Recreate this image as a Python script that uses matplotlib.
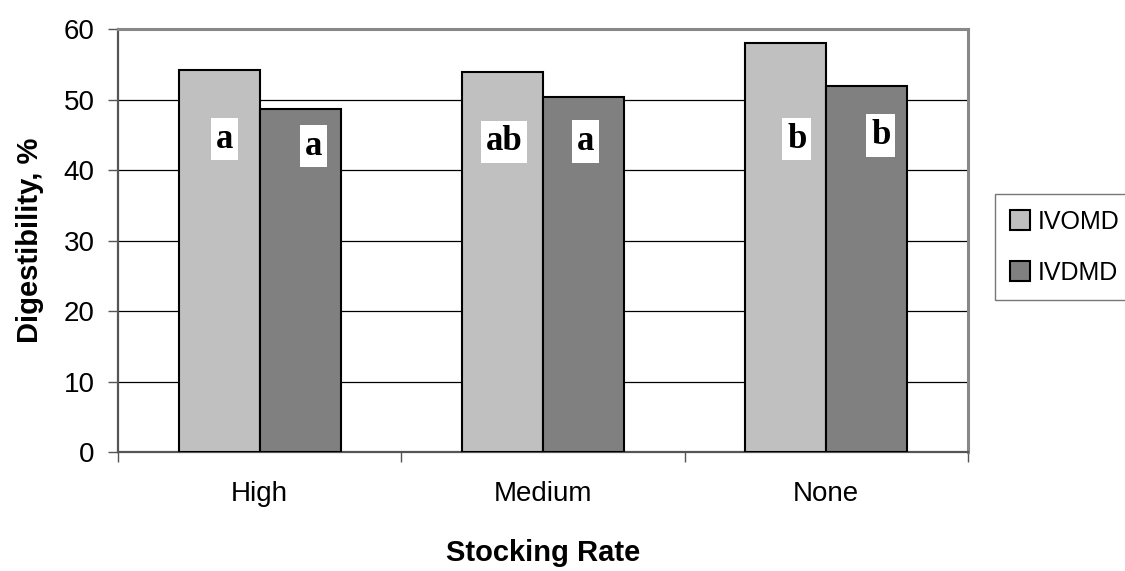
import numpy as np
import matplotlib.pyplot as plt
from matplotlib.patches import Patch

# data
rates  = ['High', 'Medium', 'None']
ivomd  = [54.2, 53.9, 58.0]
ivdmd  = [48.6, 50.3, 52.0]

# significance letters and where they sit
let_om = ['a', 'ab', 'b']
let_dm = ['a', 'a', 'b']
ypos_om = [44.4, 44.0, 44.4]
ypos_dm = [43.4, 44.1, 44.9]
dx_om = [0.018, 0.005, 0.039]
dx_dm = [0.046, 0.007, 0.049]

plt.rcParams['font.family'] = ['Liberation Sans', 'DejaVu Sans']

fig = plt.figure(figsize=(11.25, 5.71), dpi=100)
ax = fig.add_axes([0.1049, 0.2084, 0.7555, 0.7406])

x = np.arange(len(rates))
w = 0.286
ax.bar(x - w/2, ivomd, w, color='#c0c0c0', edgecolor='black', linewidth=1.5, zorder=3)
ax.bar(x + w/2, ivdmd, w, color='#808080', edgecolor='black', linewidth=1.5, zorder=3)

lab = dict(ha='center', va='center', fontsize=25, fontweight='bold',
           family='Liberation Serif', zorder=4,
           bbox=dict(facecolor='white', edgecolor='none', pad=3.5))
for i in range(len(rates)):
    ax.text(x[i] - w/2 + dx_om[i], ypos_om[i], let_om[i], **lab)
    ax.text(x[i] + w/2 + dx_dm[i], ypos_dm[i], let_dm[i], **lab)

ax.set_xlim(-0.5, 2.5)
ax.set_ylim(0, 60)
ax.set_yticks(range(0, 61, 10))
ax.yaxis.grid(True, color='black', linewidth=0.9, zorder=0)
ax.set_xticks(x)
ax.set_xticklabels(rates, fontsize=20)
ax.tick_params(axis='x', length=0, pad=21)
ax.set_xticks([-0.5, 0.5, 1.5, 2.5], minor=True)
ax.tick_params(axis='x', which='minor', length=7, width=1, color='#555555', direction='out')
ax.tick_params(axis='y', labelsize=20, length=7, width=1, color='#555555', pad=10)

for s in ['top', 'right']:
    ax.spines[s].set_color('#888888')
    ax.spines[s].set_linewidth(2.2)
for s in ['left', 'bottom']:
    ax.spines[s].set_color('#555555')
    ax.spines[s].set_linewidth(1.6)

ax.set_ylabel('Digestibility, %', fontsize=21, fontweight='bold', labelpad=14)
ax.set_xlabel('Stocking Rate', fontsize=21, fontweight='bold', labelpad=23)

handles = [Patch(facecolor='#c0c0c0', edgecolor='black', linewidth=1.5, label='IVOMD'),
           Patch(facecolor='#808080', edgecolor='black', linewidth=1.5, label='IVDMD')]
leg = fig.legend(handles=handles, loc='upper left', bbox_to_anchor=(0.8844, 0.660),
                 borderaxespad=0, fontsize=18, frameon=True, fancybox=False,
                 handlelength=0.8, handleheight=0.8, handletextpad=0.28,
                 labelspacing=1.08, borderpad=0.62)
leg.get_frame().set_edgecolor('#555555')
leg.get_frame().set_linewidth(1)

fig.savefig('out.png', dpi=100)
